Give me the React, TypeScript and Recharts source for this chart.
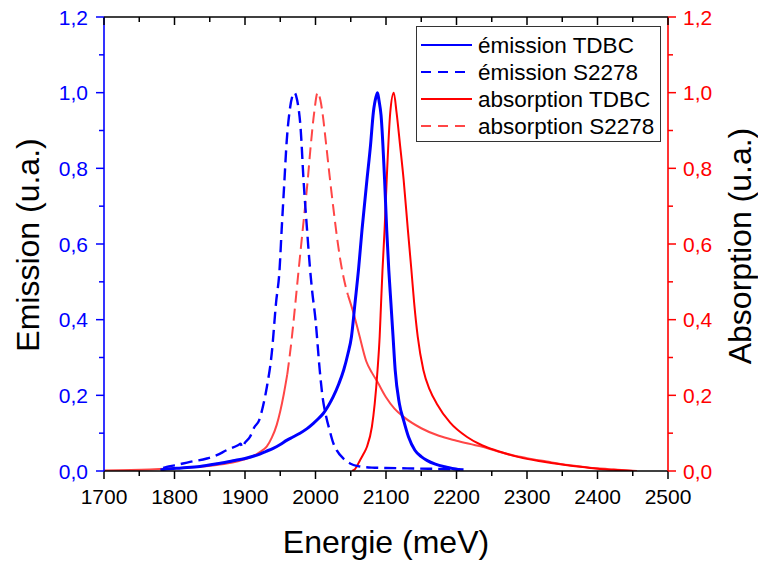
import React from 'react';
import { LineChart, Line, XAxis, YAxis, Label } from 'recharts';

// ---------- data (meV, normalised intensity) ----------
const emTdbcX = [1780, 1789, 1810, 1836, 1860, 1883, 1900, 1917, 1930, 1940, 1950, 1959, 1968, 1978, 1988, 1997, 2005, 2011, 2018, 2025, 2033, 2040, 2046, 2051, 2056, 2061, 2066, 2073, 2078, 2082, 2086, 2088, 2090, 2093, 2098, 2101, 2104, 2107, 2110, 2113, 2119, 2125, 2132, 2141, 2150, 2158, 2170, 2186, 2205];
const emTdbcY = [0.003, 0.005, 0.008, 0.012, 0.019, 0.027, 0.033, 0.042, 0.052, 0.06, 0.07, 0.081, 0.09, 0.1, 0.112, 0.126, 0.14, 0.152, 0.172, 0.196, 0.23, 0.267, 0.31, 0.355, 0.443, 0.532, 0.638, 0.77, 0.86, 0.947, 0.99, 1.0, 0.98, 0.94, 0.77, 0.638, 0.53, 0.443, 0.355, 0.267, 0.178, 0.134, 0.09, 0.055, 0.038, 0.028, 0.018, 0.01, 0.003];

const emS2278X = [1784, 1789, 1800, 1822, 1846, 1860, 1874, 1890, 1894, 1896, 1900, 1907, 1913, 1920, 1926, 1931, 1938, 1944, 1949, 1952, 1956, 1959, 1963, 1967, 1970, 1974, 1979, 1983, 1988, 1992, 1995, 2000, 2006, 2010, 2015, 2020, 2025, 2030, 2040, 2049, 2060, 2080, 2100, 2130, 2160, 2210];
const emS2278Y = [0.008, 0.011, 0.015, 0.024, 0.033, 0.042, 0.055, 0.068, 0.072, 0.062, 0.075, 0.09, 0.115, 0.134, 0.175, 0.222, 0.312, 0.444, 0.532, 0.638, 0.77, 0.868, 0.947, 0.99, 1.0, 0.98, 0.903, 0.77, 0.638, 0.54, 0.48, 0.4, 0.267, 0.196, 0.145, 0.108, 0.075, 0.055, 0.032, 0.02, 0.013, 0.009, 0.008, 0.007, 0.006, 0.004];

const absTdbcX = [2052, 2056, 2063, 2068, 2073, 2080, 2084, 2088, 2091, 2093, 2095, 2098, 2101, 2106, 2111, 2115, 2120, 2125, 2131, 2136, 2140, 2145, 2153, 2162, 2172, 2191, 2215, 2234, 2250, 2272, 2290, 2319, 2350, 2375, 2400, 2423, 2450];
const absTdbcY = [0.0, 0.005, 0.028, 0.045, 0.064, 0.117, 0.178, 0.267, 0.355, 0.443, 0.53, 0.638, 0.77, 0.947, 1.0, 0.947, 0.86, 0.77, 0.638, 0.532, 0.443, 0.355, 0.267, 0.215, 0.178, 0.128, 0.09, 0.07, 0.058, 0.045, 0.036, 0.026, 0.017, 0.011, 0.006, 0.003, 0.0];

const absS2278X = [1700, 1765, 1800, 1836, 1860, 1884, 1898, 1910, 1921, 1931, 1938, 1945, 1950, 1955, 1960, 1966, 1971, 1976, 1982, 1989, 1993, 1998, 2003, 2007, 2010, 2015, 2020, 2025, 2030, 2035, 2040, 2046, 2054, 2062, 2072, 2080, 2088, 2100, 2112, 2125, 2150, 2175, 2200, 2234, 2260, 2281, 2300, 2328, 2350, 2376, 2400, 2423, 2456];
const absS2278Y = [0.001, 0.004, 0.007, 0.011, 0.016, 0.023, 0.03, 0.038, 0.05, 0.065, 0.088, 0.122, 0.158, 0.203, 0.256, 0.345, 0.435, 0.53, 0.64, 0.77, 0.855, 0.945, 1.0, 0.98, 0.945, 0.865, 0.78, 0.7, 0.625, 0.56, 0.51, 0.465, 0.417, 0.36, 0.29, 0.26, 0.235, 0.195, 0.165, 0.143, 0.113, 0.093, 0.08, 0.065, 0.051, 0.041, 0.034, 0.025, 0.018, 0.012, 0.007, 0.004, 0.0];
// the S2278 absorption curve is drawn dashed only around its peak
const absS2278DashFrom = 1960;
const absS2278DashTo = 2046;

const xTicks = [1700, 1750, 1800, 1850, 1900, 1950, 2000, 2050, 2100, 2150, 2200, 2250, 2300, 2350, 2400, 2450, 2500];
const yTicks = [0, 0.1, 0.2, 0.3, 0.4, 0.5, 0.6, 0.7, 0.8, 0.9, 1.0, 1.1, 1.2];

const seriesNames = ['émission TDBC', 'émission S2278', 'absorption TDBC', 'absorption S2278'];

// ---------- helpers ----------
const pts = (xs: number[], ys: number[]) => xs.map((x, i) => ({ x, y: ys[i] }));
const emTdbc = pts(emTdbcX, emTdbcY);
const emS2278 = pts(emS2278X, emS2278Y);
const absTdbc = pts(absTdbcX, absTdbcY);
const absS2278 = pts(absS2278X, absS2278Y);
const absS2278Dashed = absS2278.filter((p) => p.x >= absS2278DashFrom && p.x <= absS2278DashTo);
const absS2278Solid = absS2278.map((p) =>
  p.x > absS2278DashFrom && p.x < absS2278DashTo ? { x: p.x, y: null } : p
);

const FONT = 'Liberation Sans, Arial, sans-serif';
const BLUE = '#0000ff';
const RED = '#ff0000';
const LIGHTRED = '#ff4646';
const TICK_FS = 21;
const TITLE_FS = 32;

const fmt = (v: number) => v.toFixed(1).replace('.', ',');
const isMajorY = (v: number) => Math.round(v * 10) % 2 === 0;

const BottomTick = (props: any) => {
  const { x, y, payload } = props;
  const v = payload.value;
  const major = v % 100 === 0;
  return (
    <g>
      <line x1={x} x2={x} y1={y} y2={y + (major ? 8 : 5)} stroke="#000" strokeWidth={1.5} />
      {major && (
        <text x={x} y={y + 33} textAnchor="middle" fontFamily={FONT} fontSize={TICK_FS} fill="#000">
          {v}
        </text>
      )}
    </g>
  );
};

const TopTick = (props: any) => {
  const { x, y, payload } = props;
  const major = payload.value % 100 === 0;
  return <line x1={x} x2={x} y1={y} y2={y + (major ? 8 : 5)} stroke="#000" strokeWidth={1.5} />;
};

const LeftTick = (props: any) => {
  const { x, y, payload } = props;
  const v = payload.value;
  const major = isMajorY(v);
  return (
    <g>
      <line x1={x} x2={x - (major ? 8 : 5)} y1={y} y2={y} stroke={BLUE} strokeWidth={1.5} />
      {major && (
        <text x={x - 16} y={y + 7.5} textAnchor="end" fontFamily={FONT} fontSize={TICK_FS} fill={BLUE}>
          {fmt(v)}
        </text>
      )}
    </g>
  );
};

const RightTick = (props: any) => {
  const { x, y, payload } = props;
  const v = payload.value;
  const major = isMajorY(v);
  return (
    <g>
      <line x1={x} x2={x + (major ? 8 : 5)} y1={y} y2={y} stroke={RED} strokeWidth={1.5} />
      {major && (
        <text x={x + 15} y={y + 7.5} textAnchor="start" fontFamily={FONT} fontSize={TICK_FS} fill={RED}>
          {fmt(v)}
        </text>
      )}
    </g>
  );
};

const legendItems = [
  { name: seriesNames[0], color: BLUE, dash: undefined },
  { name: seriesNames[1], color: BLUE, dash: '10 7' },
  { name: seriesNames[2], color: RED, dash: undefined },
  { name: seriesNames[3], color: LIGHTRED, dash: '10 7' },
];

export default function App() {
  return (
    <div style={{ position: 'absolute', left: 0, top: 0, width: 758, height: 562, background: '#fff' }}>
      <LineChart width={758} height={562} margin={{ top: 7, right: 30, bottom: 51, left: 44 }}>
        <XAxis
          xAxisId="bottom"
          type="number"
          dataKey="x"
          domain={[1700, 2500]}
          allowDataOverflow
          ticks={xTicks}
          interval={0}
          tickSize={0}
          tickMargin={0}
          tick={<BottomTick />}
          height={40}
          stroke="#000"
          strokeWidth={1.6}
        >
          <Label
            content={() => (
              <text x={386} y={553} textAnchor="middle" fontFamily={FONT} fontSize={TITLE_FS} fill="#000">
                Energie (meV)
              </text>
            )}
          />
        </XAxis>
        <XAxis
          xAxisId="top"
          orientation="top"
          type="number"
          dataKey="x"
          domain={[1700, 2500]}
          allowDataOverflow
          ticks={xTicks}
          interval={0}
          tickSize={0}
          tickMargin={0}
          tick={<TopTick />}
          height={10}
          stroke="#000"
          strokeWidth={1.6}
        />
        <YAxis
          yAxisId="left"
          type="number"
          domain={[0, 1.2]}
          allowDataOverflow
          ticks={yTicks}
          interval={0}
          tickSize={0}
          tickMargin={0}
          tick={<LeftTick />}
          width={60}
          stroke={BLUE}
          strokeWidth={1.6}
        >
          <Label
            content={() => (
              <text transform="translate(39,245) rotate(-90)" textAnchor="middle" fontFamily={FONT} fontSize={TITLE_FS} fill="#000">
                Emission (u.a.)
              </text>
            )}
          />
        </YAxis>
        <YAxis
          yAxisId="right"
          orientation="right"
          type="number"
          domain={[0, 1.2]}
          allowDataOverflow
          ticks={yTicks}
          interval={0}
          tickSize={0}
          tickMargin={0}
          tick={<RightTick />}
          width={60}
          stroke={RED}
          strokeWidth={1.6}
        >
          <Label
            content={() => (
              <text transform="translate(751,246) rotate(-90)" textAnchor="middle" fontFamily={FONT} fontSize={TITLE_FS} fill="#000">
                Absorption (u.a.)
              </text>
            )}
          />
        </YAxis>

        <Line data={absS2278Solid} dataKey="y" xAxisId="bottom" yAxisId="right" type="monotone" stroke={LIGHTRED} strokeWidth={2} dot={false} activeDot={false} isAnimationActive={false} />
        <Line data={absS2278Dashed} dataKey="y" xAxisId="bottom" yAxisId="right" type="monotone" stroke={LIGHTRED} strokeWidth={2} strokeDasharray="12 6" dot={false} activeDot={false} isAnimationActive={false} />
        <Line data={absTdbc} dataKey="y" xAxisId="bottom" yAxisId="right" type="monotone" stroke={RED} strokeWidth={2} dot={false} activeDot={false} isAnimationActive={false} />
        <Line data={emS2278} dataKey="y" xAxisId="bottom" yAxisId="left" type="monotone" stroke={BLUE} strokeWidth={2.4} strokeDasharray="12 6" dot={false} activeDot={false} isAnimationActive={false} />
        <Line data={emTdbc} dataKey="y" xAxisId="bottom" yAxisId="left" type="monotone" stroke={BLUE} strokeWidth={3} dot={false} activeDot={false} isAnimationActive={false} />
      </LineChart>

      <div
        style={{
          position: 'absolute',
          left: 416,
          top: 26,
          width: 245,
          height: 116,
          border: '1px solid #333',
          background: '#fff',
          boxSizing: 'border-box',
        }}
      >
        <svg width={243} height={114} style={{ display: 'block' }}>
          {legendItems.map((it, i) => {
            const cy = 18 + i * 27;
            return (
              <g key={it.name}>
                <line x1={4} x2={55} y1={cy} y2={cy} stroke={it.color} strokeWidth={2.2} strokeDasharray={it.dash} />
                <text x={61} y={cy + 8} fontFamily={FONT} fontSize={22.5} fill="#000">
                  {it.name}
                </text>
              </g>
            );
          })}
        </svg>
      </div>
    </div>
  );
}
